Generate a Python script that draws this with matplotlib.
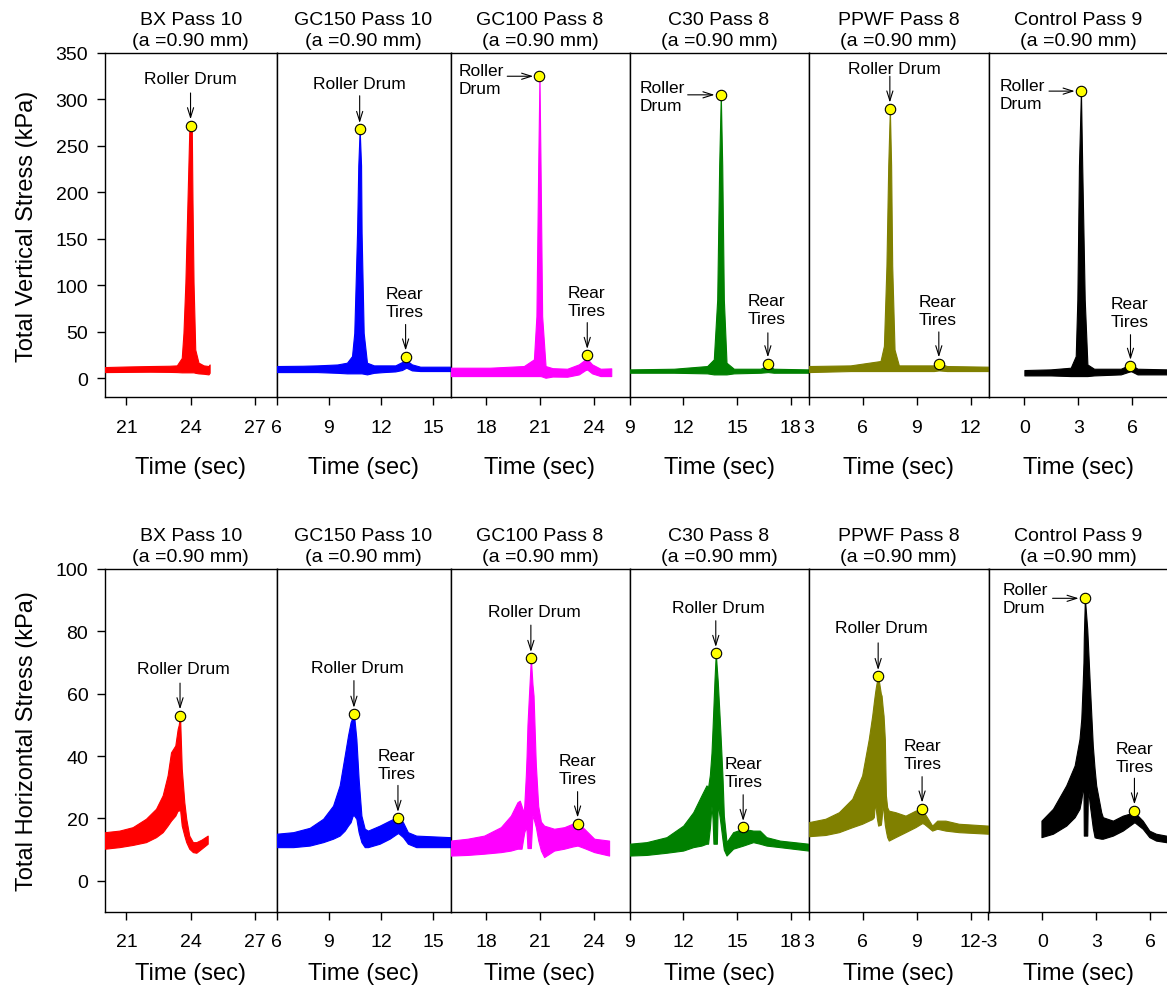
import matplotlib
matplotlib.use("Agg")
import matplotlib.pyplot as plt

plt.rcParams['font.family'] = ['Liberation Sans', 'DejaVu Sans']
plt.rcParams['axes.unicode_minus'] = False

# ---------------------------------------------------------------------------
# Panel descriptions
# ---------------------------------------------------------------------------
materials = ["BX", "GC150", "GC100", "C30", "PPWF", "Control"]
passes = [10, 10, 8, 8, 8, 9]
colors = ["#ff0000", "#0000ff", "#ff00ff", "#008000", "#808000", "#000000"]
xlims_vert = [(20, 28), (6, 16), (16, 26), (9, 19), (3, 13), (-2, 8)]
xlims_horz = [(20, 28), (6, 16), (16, 26), (9, 19), (3, 13), (-3, 7)]

# ---------------------------------------------------------------------------
# Total vertical stress (kPa): envelope of the recorded signal (low / high)
# ---------------------------------------------------------------------------
bx_v_t = [20.0, 21.0, 22.1, 23.0, 23.35, 23.58, 23.66, 23.75, 23.85, 23.93, 23.99,
          24.05, 24.08, 24.13, 24.21, 24.36, 24.6, 24.83, 24.88]
bx_v_hi = [12.2, 12.8, 13.3, 13.6, 14.0, 22, 49, 103, 193, 265, 272,
           265, 193, 103, 31, 17, 14, 13.3, 15]
bx_v_lo = [6.8, 7.0, 7.2, 7.0, 6.8, 6.5, 6.5, 6.5, 6.5, 6.5, 6.5,
           6.5, 6.5, 6.5, 6.0, 5.4, 5.0, 4.3, 6.0]

gc150_v_t = [6.0, 7.5, 8.33, 9.5, 10.05, 10.34, 10.47, 10.63, 10.70, 10.78, 10.86,
             10.89, 11.01, 11.2, 11.6, 12.16, 12.83, 13.21, 13.46, 13.78, 14.26, 16.0]
gc150_v_hi = [13.3, 13.6, 14.0, 15, 16.9, 24, 49, 157, 229, 268, 229,
              157, 49, 16.9, 14.0, 14.0, 14.0, 17.6, 19.7, 15.1, 12.6, 12.6]
gc150_v_lo = [6.8, 6.8, 6.8, 6.0, 5.4, 5.4, 5.4, 5.4, 5.4, 5.4, 5.4,
              5.4, 5.0, 4.3, 6.0, 6.8, 7.5, 9.0, 11.5, 8.6, 7.9, 7.9]

gc100_v_t = [16.0, 18.2, 20.1, 20.66, 20.80, 20.90, 20.97, 21.03, 21.12, 21.31, 21.7,
             22.52, 23.17, 23.54, 23.64, 23.91, 24.38, 24.98]
gc100_v_hi = [11.5, 11.5, 13.3, 20.5, 67, 229, 325, 229, 67, 13.3, 11,
              10.4, 15.1, 20.5, 21, 15.1, 10.4, 10.8]
gc100_v_lo = [2.5, 2.5, 2.5, 2.5, 2.5, 2.5, 2.5, 2.5, 2.0, 0.7, 2.0,
              1.8, 4.3, 9.0, 9.5, 5.4, 2.5, 2.5]

c30_v_t = [9.0, 11.48, 13.34, 13.71, 13.90, 14.01, 14.10, 14.18, 14.27, 14.42, 14.83,
           16.32, 16.73, 17.06, 19.0]
c30_v_hi = [9.7, 10.4, 13.3, 20.5, 85, 229, 305, 229, 85, 16.9, 10.4,
            10.4, 14, 10.4, 9.7]
c30_v_lo = [6.1, 6.1, 5.4, 4.3, 4.3, 4.3, 4.3, 4.3, 4.3, 4.3, 5.4,
            6.1, 6.8, 6.1, 6.1]

ppwf_v_t = [3.0, 5.33, 7.0, 7.19, 7.33, 7.43, 7.52, 7.59, 7.65, 7.78, 8.02,
            9.96, 10.24, 10.70, 13.0]
ppwf_v_hi = [13.3, 14.0, 18.7, 35, 121, 229, 290, 229, 121, 31, 14,
             14.0, 16.2, 13.3, 12.6]
ppwf_v_lo = [6.8, 7.9, 7.9, 7.9, 7.9, 7.9, 7.9, 7.9, 7.9, 7.9, 7.9,
             7.9, 8.6, 7.9, 7.9]

ctrl_v_t = [0.0, 1.46, 2.58, 2.86, 2.95, 3.04, 3.15, 3.22, 3.36, 3.51, 3.88,
            5.37, 5.93, 6.3, 8.0]
ctrl_v_hi = [9.0, 9.7, 11.5, 24, 85, 229, 309, 229, 85, 15, 10.4,
             10.4, 15.1, 10.4, 9.7]
ctrl_v_lo = [3.2, 3.2, 2.5, 2.5, 2.5, 2.5, 2.5, 2.5, 2.5, 2.5, 3.2,
             4.3, 7.9, 4.3, 4.3]

# Peak values picked for the roller drum and the rear tires (vertical)
drum_v_t = [23.99, 10.78, 20.97, 14.10, 7.52, 3.15]
drum_v_kpa = [272, 268, 325, 305, 290, 309]
tires_v_t = [None, 13.42, 23.64, 16.73, 10.24, 5.91]
tires_v_kpa = [None, 23.3, 25, 16, 16, 13.3]

# ---------------------------------------------------------------------------
# Total horizontal stress (kPa)
# ---------------------------------------------------------------------------
bx_h_t = [20.0, 20.67, 21.29, 21.91, 22.38, 22.69, 22.92, 23.08, 23.28, 23.39,
          23.44, 23.50, 23.58, 23.70, 23.79, 23.93, 24.10, 24.26, 24.5, 24.79]
bx_h_hi = [15.6, 16.1, 17.2, 19.9, 23.1, 27.4, 33.8, 41.2, 43.4, 48.7,
           50, 53, 36, 25.2, 19.9, 14.5, 12.4, 12.4, 13.2, 14.5]
bx_h_lo = [10.3, 10.8, 11.5, 12.4, 14.0, 15.6, 17.7, 19.3, 20.9, 22.5,
           22.5, 23, 17.7, 14.5, 12.4, 10.3, 9.2, 9.0, 10.3, 11.9]

gc150_h_t = [6.0, 6.96, 7.91, 8.68, 9.25, 9.63, 9.92, 10.11, 10.26, 10.38, 10.45,
             10.59, 10.72, 10.88, 11.07, 11.26, 11.93, 12.5, 12.92, 13.0, 13.27,
             13.55, 14.03, 16.0]
gc150_h_hi = [15.1, 15.6, 17.0, 19.9, 24.1, 30.6, 40.2, 46.6, 50.9, 52.5, 53.5,
              45.5, 32.7, 20.9, 16.7, 16.1, 17.7, 19.3, 20.4, 20.2, 18.8,
              15.6, 14.5, 14.0]
gc150_h_lo = [10.8, 10.8, 11.3, 12.4, 13.5, 14.5, 16.1, 17.7, 18.8, 20.9, 21,
              19.9, 15.6, 12.4, 10.8, 10.8, 11.9, 13.5, 15.1, 15.3, 14.0,
              11.9, 10.8, 10.8]

gc100_h_t = [16.0, 16.95, 17.88, 18.81, 19.37, 19.74, 19.87, 19.97, 20.06, 20.12,
             20.21, 20.25, 20.30, 20.36, 20.49, 20.58, 20.64, 20.75, 20.77, 20.90,
             21.05, 21.23, 21.79, 22.35, 22.82, 23.1, 23.47, 24.03, 24.86]
gc100_h_hi = [12.9, 13.5, 14.5, 17.2, 20.9, 25.2, 25.7, 24.0, 22.0, 24.0,
              34, 40, 50, 57, 71.4, 63, 59.4, 40, 37, 24,
              19, 17.7, 16.7, 17.2, 18.3, 18.5, 16.7, 13.5, 12.9]
gc100_h_lo = [8.1, 8.3, 8.7, 9.2, 9.7, 10.3, 10.3, 10.3, 13.5, 15.5,
              17.2, 16, 10.5, 10.5, 10.5, 21, 20, 17.6, 17.2, 13,
              9.7, 7.6, 9.7, 10.3, 11, 11.3, 10.5, 9.2, 8.1]

c30_h_t = [9.0, 9.95, 11.07, 12.0, 12.56, 13.02, 13.30, 13.39, 13.49, 13.58,
           13.64, 13.69, 13.75, 13.82, 13.88, 13.93, 14.07, 14.20, 14.27, 14.42,
           14.79, 15.35, 15.91, 16.28, 16.65, 17.4, 19.0]
c30_h_hi = [11.9, 12.4, 14.0, 17.7, 22.0, 27.4, 30.6, 30.0, 34, 41,
            49, 56, 64.7, 73.0, 68, 64, 48.7, 32.7, 20.9, 12.4,
            15.6, 16.7, 16.1, 16.1, 14.0, 12.9, 11.9]
c30_h_lo = [8.1, 8.3, 9.0, 9.7, 10.8, 11.3, 11.9, 11.9, 17, 24,
            20, 11.9, 11.9, 11.9, 11.9, 25, 19, 13, 10, 8.1,
            10.3, 11.3, 12.4, 11.9, 11.3, 10.8, 9.7]

ppwf_h_t = [3.0, 3.94, 4.69, 5.43, 5.98, 6.35, 6.54, 6.63, 6.69, 6.74, 6.80,
            6.87, 7.02, 7.06, 7.13, 7.17, 7.24, 7.30, 7.37, 7.46, 7.83, 8.39,
            8.94, 9.31, 9.41, 9.87, 10.15, 10.61, 11.35, 13.0]
ppwf_h_hi = [18.8, 19.9, 22.0, 26.3, 33.8, 45.5, 53, 57.3, 60, 62, 64,
             65.6, 60, 59.4, 55, 53, 45.5, 27.4, 23.6, 22.5, 22.0, 20.9,
             22.5, 23, 22.0, 17.7, 19.3, 19.3, 18.3, 17.7]
ppwf_h_lo = [14.3, 14.7, 15.6, 17.2, 18.3, 19.3, 19.8, 20.4, 25.2, 23, 20,
             17.7, 18, 20, 25.2, 22, 18, 16, 14, 12.9, 14.0, 15.6,
             17.2, 18.5, 18.3, 16.1, 16.7, 16.1, 15.6, 15.1]

ctrl_h_t = [-0.05, 0.59, 1.33, 1.80, 2.07, 2.17, 2.24, 2.29, 2.31, 2.37, 2.50,
            2.54, 2.63, 2.81, 2.91, 3.0, 3.28, 3.37, 3.93, 4.48, 5.13, 5.59,
            5.96, 6.33, 6.89, 7.0]
ctrl_h_hi = [19.3, 23.1, 30.6, 37.0, 45.5, 52, 62, 70, 78, 90.6, 80.8,
             76, 64.7, 43.4, 36, 30.6, 22.0, 20.4, 19.3, 20.9, 22.0, 19.3,
             16.1, 15.1, 14.5, 14.4]
ctrl_h_lo = [14.0, 15.1, 17.7, 20.4, 23.1, 26, 29, 31, 14.5, 14.5, 14.5,
             30, 25, 17, 14.0, 13.8, 13.5, 13.5, 14.5, 16.1, 18.8, 16.7,
             14.0, 12.9, 12.4, 12.3]

drum_h_t = [23.50, 10.45, 20.49, 13.82, 6.87, 2.37]
drum_h_kpa = [53, 53.5, 71.4, 73.0, 65.6, 90.6]
tires_h_t = [None, 12.98, 23.1, 15.35, 9.31, 5.13]
tires_h_kpa = [None, 20.1, 18.3, 17.2, 23.1, 22.5]

vert_series = [(bx_v_t, bx_v_lo, bx_v_hi), (gc150_v_t, gc150_v_lo, gc150_v_hi),
               (gc100_v_t, gc100_v_lo, gc100_v_hi), (c30_v_t, c30_v_lo, c30_v_hi),
               (ppwf_v_t, ppwf_v_lo, ppwf_v_hi), (ctrl_v_t, ctrl_v_lo, ctrl_v_hi)]
horz_series = [(bx_h_t, bx_h_lo, bx_h_hi), (gc150_h_t, gc150_h_lo, gc150_h_hi),
               (gc100_h_t, gc100_h_lo, gc100_h_hi), (c30_h_t, c30_h_lo, c30_h_hi),
               (ppwf_h_t, ppwf_h_lo, ppwf_h_hi), (ctrl_h_t, ctrl_h_lo, ctrl_h_hi)]

# ---------------------------------------------------------------------------
# Label placement: ("top", text_x, text_y, arrow_x, arrow_y) puts the label
# above the marker; ("side", text_x, text_y, arrow_x, arrow_y) puts it to the
# left with a horizontal arrow.
# ---------------------------------------------------------------------------
drum_labels_v = [("top", 23.97, 323, 23.99, 307),
                 ("top", 10.75, 317, 10.78, 304),
                 ("side", 16.46, 322, 19.17, 325),
                 ("side", 9.56, 303, 12.25, 305),
                 ("top", 7.78, 333.5, 7.52, 325),
                 ("side", -1.37, 305, 1.37, 309)]
tire_labels_v = [None,
                 (13.37, 82, 13.42, 58),
                 (23.58, 83, 23.64, 60),
                 (16.65, 74, 16.73, 49),
                 (10.18, 73, 10.24, 50),
                 (5.84, 71, 5.91, 47)]
drum_labels_h = [("top", 23.65, 68, 23.50, 63.4),
                 ("top", 10.62, 68.5, 10.45, 64.2),
                 ("top", 20.69, 86.4, 20.49, 82),
                 ("top", 13.95, 87.7, 13.82, 83.4),
                 ("top", 7.07, 81.3, 6.87, 76.3),
                 ("side", -2.2, 90.5, 0.57, 90.6)]
tire_labels_h = [None,
                 (12.89, 37.3, 12.98, 30.6),
                 (23.08, 35.6, 23.1, 28.6),
                 (15.35, 34.6, 15.35, 27.6),
                 (9.32, 40.4, 9.31, 33.4),
                 (5.13, 39.7, 5.13, 32.9)]

# ---------------------------------------------------------------------------
W, H = 1167, 1003
fig = plt.figure(figsize=(W / 100, H / 100), dpi=100)
x_edges = [105, 276.5, 450.5, 629.5, 808.5, 988.5, 1168]
rows = [
    dict(top=54, bottom=398, ylim=(-20, 350), yticks=range(0, 351, 50),
         ylabel="Total Vertical Stress (kPa)", series=vert_series,
         xlims=xlims_vert, drum=(drum_v_t, drum_v_kpa), tires=(tires_v_t, tires_v_kpa),
         drum_lab=drum_labels_v, tire_lab=tire_labels_v, tick_pad=10, xlabel_pad=14),
    dict(top=570, bottom=913, ylim=(-10, 100), yticks=range(0, 101, 20),
         ylabel="Total Horizontal Stress (kPa)", series=horz_series,
         xlims=xlims_horz, drum=(drum_h_t, drum_h_kpa), tires=(tires_h_t, tires_h_kpa),
         drum_lab=drum_labels_h, tire_lab=tire_labels_h, tick_pad=9, xlabel_pad=9),
]

arrow_kw = dict(arrowstyle="->,head_length=0.7,head_width=0.22", color="black",
                lw=0.8, shrinkA=0, shrinkB=4.5)
label_fs = 12.5
two_line_spacing = 1.25


def mark(ax, x, y):
    ax.plot([x], [y], "o", ms=7.5, mfc="#ffff00", mec="black", mew=0.8,
            zorder=6, clip_on=False)


for row in rows:
    y0, y1 = row["top"], row["bottom"]
    for i in range(6):
        x0, x1 = x_edges[i], x_edges[i + 1]
        ax = fig.add_axes([x0 / W, 1 - y1 / H, (x1 - x0) / W, (y1 - y0) / H])
        t, lo, hi = row["series"][i]
        ax.fill_between(t, lo, hi, color=colors[i], lw=0.8, edgecolor=colors[i],
                        zorder=3)
        xl = row["xlims"][i]
        ax.set_xlim(*xl)
        ax.set_ylim(*row["ylim"])
        first = -(-xl[0] // 3) * 3
        ax.set_xticks(list(range(int(first), int(xl[1]) + 1, 3)))
        ax.tick_params(axis="x", direction="out", length=6, width=1,
                       labelsize=14, pad=row["tick_pad"], top=False)
        if i == 0:
            ax.set_yticks(list(row["yticks"]))
            ax.tick_params(axis="y", direction="out", length=6, width=1,
                           labelsize=14, pad=6, right=False)
            ax.set_ylabel(row["ylabel"], fontsize=17, labelpad=13)
        else:
            ax.tick_params(axis="y", left=False, labelleft=False, right=False)
        for s in ax.spines.values():
            s.set_linewidth(1.0)
            s.set_color("black")
        ax.set_title(f"{materials[i]} Pass {passes[i]}\n(a =0.90 mm)",
                     fontsize=14, linespacing=two_line_spacing, pad=6)
        ax.set_xlabel("Time (sec)", fontsize=17, labelpad=row["xlabel_pad"])

        # roller drum peak
        px, py = row["drum"][0][i], row["drum"][1][i]
        mark(ax, px, py)
        kind, tx, ty, ax_, ay_ = row["drum_lab"][i]
        if kind == "top":
            ax.text(tx, ty, "Roller Drum", ha="center", va="center", fontsize=label_fs)
        else:
            ax.text(tx, ty, "Roller\nDrum", ha="left", va="center", fontsize=label_fs,
                    linespacing=two_line_spacing)
        ax.annotate("", xy=(px, py), xytext=(ax_, ay_), arrowprops=arrow_kw, zorder=7)

        # rear tire peak
        if row["tires"][0][i] is not None:
            qx, qy = row["tires"][0][i], row["tires"][1][i]
            mark(ax, qx, qy)
            tx, ty, ax_, ay_ = row["tire_lab"][i]
            ax.text(tx, ty, "Rear\nTires", ha="center", va="center", fontsize=label_fs,
                    linespacing=two_line_spacing)
            ax.annotate("", xy=(qx, qy), xytext=(ax_, ay_), arrowprops=arrow_kw,
                        zorder=7)

fig.savefig("out.png", dpi=100)
